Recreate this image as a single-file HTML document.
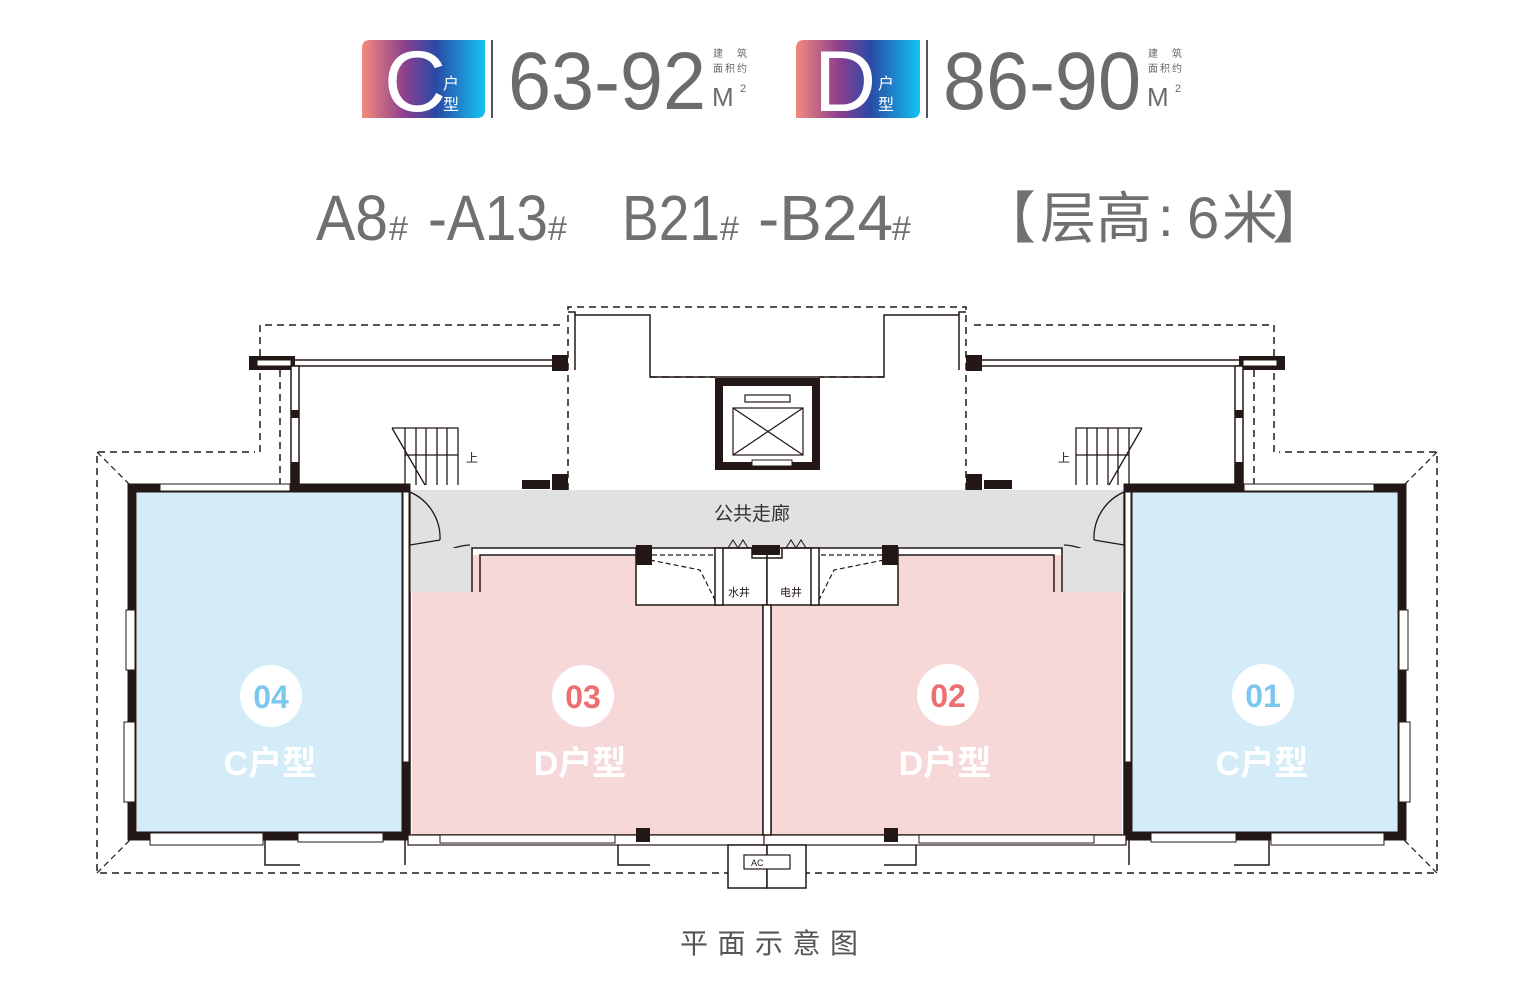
<!DOCTYPE html>
<html><head><meta charset="utf-8"><style>
html,body{margin:0;padding:0;background:#fff;}
svg{display:block;}
</style></head><body>
<svg width="1540" height="1000" viewBox="0 0 1540 1000" xmlns="http://www.w3.org/2000/svg" font-family="Liberation Sans, Noto Sans CJK SC, sans-serif">
<defs>
<linearGradient id="g" x1="0" x2="1" y1="0" y2="0">
<stop offset="0" stop-color="#f28a7c"/><stop offset="0.35" stop-color="#8b3f8e"/><stop offset="0.6" stop-color="#2a4aa6"/><stop offset="1" stop-color="#12c3f2"/>
</linearGradient>
<g id="half" fill="none" stroke="#231815">
  <g stroke-dasharray="7,5" stroke-width="1.5">
    <path d="M767,873 L97,873 L97,452 L255,452"/>
    <path d="M260,452 L260,325 L560,325"/>
    <path d="M568,490 L568,307 L767,307"/>
    <path d="M650,377 L715,377"/>
    <path d="M280,370 L280,487"/>
  </g>
  <path d="M97,452 L130,485 M97,873 L130,840" stroke-width="1.2" stroke-dasharray="6,4"/>
  <rect x="249" y="356" width="46" height="14" fill="#231815" stroke="none"/>
  <rect x="257" y="360" width="34" height="6" fill="#fff" stroke-width="1"/>
  <path d="M295,360 L560,360 M295,366 L560,366" stroke-width="1.5"/>
  <rect x="552" y="355" width="16" height="16" fill="#231815" stroke="none"/>
  <rect x="291" y="366" width="8" height="121" fill="#fff" stroke-width="1.5"/>
  <rect x="291" y="410" width="8" height="8" fill="#231815" stroke="none"/>
  <rect x="291" y="462" width="8" height="25" fill="#231815" stroke="none"/>
  <rect x="552" y="474" width="16" height="16" fill="#231815" stroke="none"/>
  <rect x="522" y="480" width="28" height="9" fill="#231815" stroke="none"/>
  <path d="M392,428 L458,428 L458,485 M392,428 L425,485 M405,428 V485 M416,428 V485 M426,428 V485 M437,428 V485 M447,428 V485 M405,455 L458,455" stroke-width="1.3"/>
  <path d="M568,312 L575,312 L575,370 M575,315 L650,315 L650,377 L767,377" stroke-width="1.5"/>
  <rect x="403" y="490" width="364" height="58" fill="#e1e1e1" stroke="none"/>
  <rect x="403" y="548" width="70" height="44" fill="#e1e1e1" stroke="none"/>
  <rect x="137" y="492" width="266" height="340" fill="#d4ebf8" stroke="none"/>
  <rect x="132" y="488" width="274" height="348" stroke-width="9"/>
  <rect x="160" y="484" width="130" height="7" fill="#fff" stroke-width="1"/>
  <rect x="126" y="610" width="9" height="60" fill="#fff" stroke-width="1"/>
  <rect x="124" y="722" width="11" height="80" fill="#fff" stroke-width="1"/>
  <rect x="150" y="833" width="113" height="12" fill="#fff" stroke-width="1"/>
  <rect x="298" y="833" width="85" height="9" fill="#fff" stroke-width="1"/>
  <rect x="403" y="492" width="6" height="270" fill="#fff" stroke-width="1"/>
  <path d="M265,840 L265,865 L300,865 M405,840 V865" stroke-width="1.5"/>
  <path d="M410,492 L410,545 M410,492 A50,50 0 0 1 440,540 M410,545 L440,540" stroke-width="1.3"/>
  <path d="M470,545 A55,55 0 0 0 418,592" stroke-width="1.3"/>
  <rect x="412" y="555" width="351" height="280" fill="#f7d8d8" stroke="none"/>
  <rect x="412" y="548" width="60" height="44" fill="#e1e1e1" stroke="none"/>
  <path d="M472,592 L472,548 L636,548 M480,592 L480,555 L636,555" stroke-width="1.5"/>
  <path d="M410,592 L410,835 M412,835 L763,835 L763,605 M767,605 V835" stroke-width="1.5"/>
  <rect x="408" y="835" width="362" height="10" fill="#fff" stroke-width="1.2"/>
  <rect x="440" y="835" width="175" height="8" fill="#fff" stroke-width="1"/>
  <rect x="636" y="828" width="14" height="14" fill="#231815" stroke="none"/>
  <path d="M618,845 V865 L650,865" stroke-width="1.5"/>
  <rect x="636" y="548" width="131" height="57" fill="#fff" stroke-width="1.5"/>
  <rect x="636" y="545" width="16" height="20" fill="#231815" stroke="none"/>
  <path d="M652,555 L715,555 L715,605 M650,560 L700,570 L715,600" stroke-width="1.2" stroke-dasharray="5,3"/>
  <rect x="715" y="548" width="8" height="57" fill="#fff" stroke-width="1.5"/>
  <path d="M723,548 L752,548 L752,558 L767,558" stroke-width="1.5"/>
  <path d="M728,548 l5,-8 l5,8 l5,-8 l5,8" stroke-width="1"/>
  <rect x="728" y="845" width="39" height="43" fill="#fff" stroke-width="1.5"/>
</g>
</defs>

<path d="M370,40 H485 V110 Q485,118 477,118 H362 V48 Q362,40 370,40 Z" fill="url(#g)"/>
<text x="384" y="111" font-size="86" fill="#fff">C</text>
<text x="443" y="89" font-size="16" fill="#fff">户</text>
<text x="443" y="110" font-size="16" fill="#fff">型</text>
<rect x="491" y="40" width="2" height="78" fill="#555"/>
<text x="508" y="109" font-size="82" fill="#6b6b6b" textLength="198" lengthAdjust="spacingAndGlyphs">63-92</text>
<text x="713" y="57" font-size="10" fill="#666" textLength="34">建 筑</text>
<text x="713" y="72" font-size="10" fill="#666" textLength="34">面积约</text>
<text x="712" y="106" font-size="26" fill="#6b6b6b">M</text><text x="740" y="92" font-size="11" fill="#6b6b6b">2</text>

<path d="M804,40 H920 V110 Q920,118 912,118 H796 V48 Q796,40 804,40 Z" fill="url(#g)"/>
<text x="814" y="111" font-size="86" fill="#fff">D</text>
<text x="878" y="89" font-size="16" fill="#fff">户</text>
<text x="878" y="110" font-size="16" fill="#fff">型</text>
<rect x="926" y="40" width="2" height="78" fill="#555"/>
<text x="943" y="109" font-size="82" fill="#6b6b6b" textLength="198" lengthAdjust="spacingAndGlyphs">86-90</text>
<text x="1148" y="57" font-size="10" fill="#666" textLength="34">建 筑</text>
<text x="1148" y="72" font-size="10" fill="#666" textLength="34">面积约</text>
<text x="1147" y="106" font-size="26" fill="#6b6b6b">M</text><text x="1175" y="92" font-size="11" fill="#6b6b6b">2</text>

<g fill="#707070">
<text x="316" y="240" font-size="64" textLength="72" lengthAdjust="spacingAndGlyphs">A8</text>
<text x="389" y="240" font-size="34">#</text>
<text x="428" y="240" font-size="64" textLength="120" lengthAdjust="spacingAndGlyphs">-A13</text>
<text x="548" y="240" font-size="34">#</text>
<text x="622" y="240" font-size="64" textLength="98" lengthAdjust="spacingAndGlyphs">B21</text>
<text x="720" y="240" font-size="34">#</text>
<text x="758" y="240" font-size="64" textLength="135" lengthAdjust="spacingAndGlyphs">-B24</text>
<text x="892" y="240" font-size="34">#</text>
<g font-family="Noto Sans CJK SC, sans-serif" font-size="56">
<text x="980" y="238">【</text>
<text x="1040" y="238" textLength="112" lengthAdjust="spacingAndGlyphs">层高</text>
<text x="1158" y="236" font-family="Liberation Sans, sans-serif">:</text>
<text x="1187" y="238" font-family="Liberation Sans, sans-serif" font-size="58">6</text>
<text x="1222" y="238">米</text>
<text x="1272" y="238">】</text>
</g>
</g>

<use href="#half"/>
<use href="#half" transform="translate(1534,0) scale(-1,1)"/>
<rect x="763" y="605" width="8" height="230" fill="#fff" stroke="#231815" stroke-width="1.5"/>
<rect x="719" y="382" width="97" height="84" fill="#fff" stroke="#231815" stroke-width="8"/>
<rect x="745" y="395" width="45" height="7" fill="#fff" stroke="#231815" stroke-width="1.2"/>
<rect x="733" y="408" width="70" height="47" fill="#fff" stroke="#231815" stroke-width="1.2"/>
<path d="M733,408 L803,455 M803,408 L733,455" stroke="#231815" stroke-width="1.2"/>
<rect x="752" y="460" width="40" height="6" fill="#fff" stroke="#231815" stroke-width="1"/>
<rect x="752" y="545" width="28" height="10" fill="#231815"/>
<text x="728" y="596" font-size="11" fill="#231815">水井</text>
<text x="780" y="596" font-size="11" fill="#231815">电井</text>
<text x="466" y="462" font-size="12" fill="#231815">上</text>
<text x="1058" y="462" font-size="12" fill="#231815">上</text>
<rect x="744" y="855" width="46" height="14" fill="#fff" stroke="#231815" stroke-width="1.2"/>
<text x="751" y="866" font-size="9" fill="#231815">AC</text>
<text x="752" y="520" font-size="19" fill="#333" text-anchor="middle" font-family="Noto Sans CJK SC, sans-serif">公共走廊</text>

<g font-family="Liberation Sans, Noto Sans CJK SC, sans-serif" font-weight="bold" text-anchor="middle">
<circle cx="271" cy="696" r="31" fill="#fff"/><text x="271" y="708" font-size="32" fill="#7cc7ee">04</text>
<text x="270" y="775" font-size="34" fill="#fff">C户型</text>
<circle cx="583" cy="696" r="31" fill="#fff"/><text x="583" y="708" font-size="32" fill="#ee6f6f">03</text>
<text x="580" y="775" font-size="34" fill="#fff">D户型</text>
<circle cx="948" cy="695" r="31" fill="#fff"/><text x="948" y="707" font-size="32" fill="#ee6f6f">02</text>
<text x="945" y="775" font-size="34" fill="#fff">D户型</text>
<circle cx="1263" cy="695" r="31" fill="#fff"/><text x="1263" y="707" font-size="32" fill="#7cc7ee">01</text>
<text x="1262" y="775" font-size="34" fill="#fff">C户型</text>
</g>
<text x="680" y="953" font-size="28" fill="#555" font-family="Noto Sans CJK SC, sans-serif" textLength="178">平面示意图</text>
</svg>
</body></html>
